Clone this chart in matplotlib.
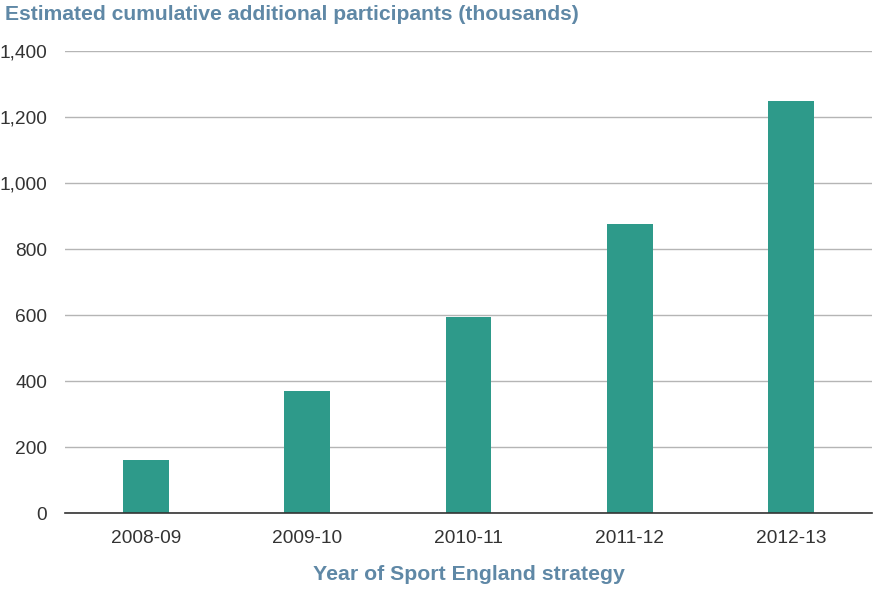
import matplotlib
matplotlib.use("Agg")
import matplotlib.pyplot as plt

categories = ["2008-09", "2009-10", "2010-11", "2011-12", "2012-13"]
values = [160, 370, 595, 877, 1250]
yticks = [0, 200, 400, 600, 800, 1000, 1200, 1400]

plt.rcParams['font.family'] = ['Liberation Sans', 'DejaVu Sans']
W, H = 873, 589
fig = plt.figure(figsize=(W/100, H/100), dpi=100)
ax = fig.add_axes([65/W, 1-513/H, (872-65)/W, (513-51)/H])

x = list(range(len(categories)))
ax.bar(x, values, width=0.285, color="#2e9a8a", zorder=3)
ax.set_xlim(-0.5, len(categories)-0.5)
ax.set_ylim(0, 1400)
ax.set_yticks(yticks)
ax.set_yticklabels([f"{v:,}" for v in yticks])
ax.set_xticks(x)
ax.set_xticklabels(categories)
ax.tick_params(axis='both', length=0, labelsize=13.8, colors="#333333")
ax.tick_params(axis='y', pad=13)
ax.tick_params(axis='x', pad=12)
ax.grid(axis='y', color="#b5b5b5", linewidth=1, zorder=0)
for s in ["top", "right", "left"]:
    ax.spines[s].set_visible(False)
ax.spines["bottom"].set_color("#333333")
ax.spines["bottom"].set_linewidth(1.2)
ax.spines["bottom"].set_zorder(4)

fig.text(5/W, 1-15/H, "Estimated cumulative additional participants (thousands)",
         fontsize=15.2, fontweight='bold', color="#5f88a6", va='center', ha='left')
fig.text((65+872)/2/W, 1-575/H, "Year of Sport England strategy",
         fontsize=15.3, fontweight='bold', color="#5f88a6", va='center', ha='center')

fig.savefig("out.png", dpi=100)
